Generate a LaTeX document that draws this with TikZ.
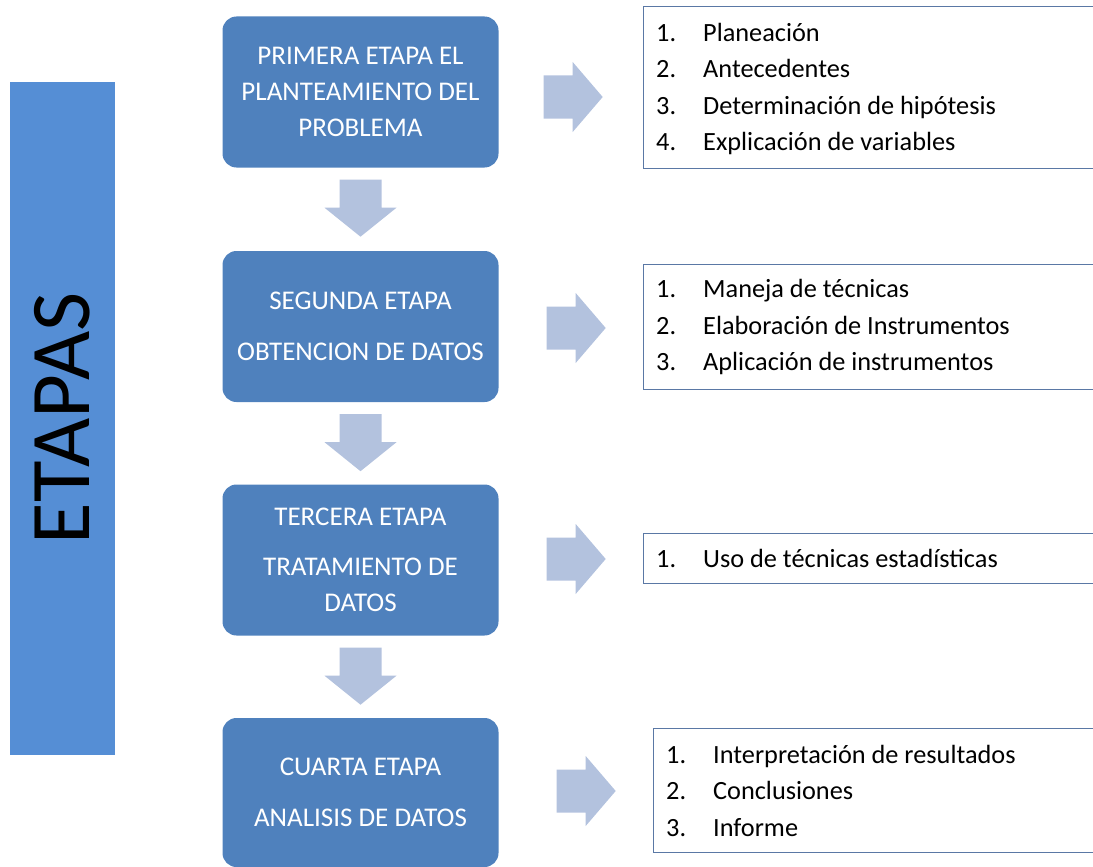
\documentclass[tikz,border=0pt]{standalone}
\usepackage{fontspec}
\setmainfont{Carlito}
\usetikzlibrary{calc}
\definecolor{barraazul}{RGB}{85,142,213}
\definecolor{etapaazul}{RGB}{79,129,189}
\definecolor{flechagris}{RGB}{179,194,222}
\definecolor{bordelista}{RGB}{90,120,165}
\newcommand{\numlista}[1]{\makebox[47pt][l]{#1}}
\tikzset{
  barra/.style={rectangle, fill=barraazul, inner sep=0pt, minimum width=673pt, minimum height=105pt, font=\fontsize{85}{85}\selectfont},
  etapa/.style={rectangle, rounded corners=14pt, fill=etapaazul, text=white, inner sep=0pt, minimum width=276pt, minimum height=151pt, align=center, font=\fontsize{27}{36}\selectfont},
  lista/.style={rectangle, draw=bordelista, line width=1.3pt, fill=white, anchor=north west, inner sep=0pt, minimum width=480pt},
  textolista/.style={anchor=west, inner sep=0pt, align=left, font=\fontsize{26.3}{36.5}\selectfont},
  flecha/.style={fill=flechagris},
  abajo/.pic={\fill[flecha] (-21,0) -- (21,0) -- (21,28) -- (36,28) -- (0,57) -- (-36,28) -- (-21,28) -- cycle;},
  derecha/.pic={\fill[flecha] (0,-21.5) -- (29,-21.5) -- (29,-35) -- (59,0) -- (29,35) -- (29,21.5) -- (0,21.5) -- cycle;}
}
\begin{document}
\begin{tikzpicture}[x=1pt, y=-1pt]
    \useasboundingbox (0,0) rectangle (1093,867);
    \clip (0,0) rectangle (1093,867);
    \node[barra, rotate=90] (etapas) at (62.5,418.5) {ETAPAS};
    \node[etapa] (e1) at (360.5,92) {PRIMERA ETAPA EL\\PLANTEAMIENTO DEL\\PROBLEMA};
    \node[etapa] (e2) at (360.5,326.5) {SEGUNDA ETAPA\\[15pt]OBTENCION DE DATOS};
    \node[etapa] (e3) at (360.5,560) {TERCERA ETAPA\\[14pt]TRATAMIENTO DE\\DATOS};
    \node[etapa, minimum height=149pt] (e4) at (360.5,792.5) {CUARTA ETAPA\\[15pt]ANALISIS DE DATOS};
    \pic at ($(e1.south)+(0,12)$) {abajo};
    \pic at ($(e2.south)+(0,12)$) {abajo};
    \pic at ($(e3.south)+(0,12)$) {abajo};
    \node[lista, minimum height=162pt] (l1) at (643,6) {};
    \node[lista, minimum height=125pt] (l2) at (643,264) {};
    \node[lista, minimum height=50pt] (l3) at (643,533) {};
    \node[lista, minimum height=124pt] (l4) at (653,728) {};
    \pic at ($(e1.east)+(45,5)$) {derecha};
    \pic at ($(e2.east)+(48,1.5)$) {derecha};
    \pic at ($(e3.east)+(48,-1)$) {derecha};
    \pic at ($(e4.east)+(58,-1.5)$) {derecha};
    \node[textolista] (t1) at ($(l1.west)+(13,1.5)$) {\numlista{1.}Planeación\\\numlista{2.}Antecedentes\\\numlista{3.}Determinación de hipótesis\\\numlista{4.}Explicación de variables};
    \node[textolista] (t2) at ($(l2.west)+(13,0)$) {\numlista{1.}Maneja de técnicas\\\numlista{2.}Elaboración de Instrumentos\\\numlista{3.}Aplicación de instrumentos};
    \node[textolista] (t3) at ($(l3.west)+(13,0)$) {\numlista{1.}Uso de técnicas estadísticas};
    \node[textolista] (t4) at ($(l4.west)+(13,0)$) {\numlista{1.}Interpretación de resultados\\\numlista{2.}Conclusiones\\\numlista{3.}Informe};
\end{tikzpicture}
\end{document}
